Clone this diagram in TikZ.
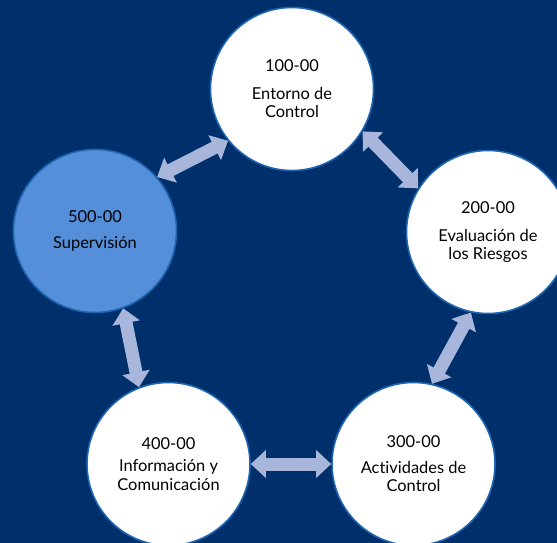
\documentclass[tikz,border=0pt]{standalone}
\usepackage{fontspec}
\setmainfont[Ligatures={NoCommon,NoRare}]{Lato}
\usetikzlibrary{arrows.meta}
\definecolor{bg}{RGB}{0,48,108}
\definecolor{ring}{RGB}{30,102,178}
\definecolor{paleblue}{RGB}{85,143,218}
\definecolor{arrowc}{RGB}{168,182,220}
\begin{document}
\begin{tikzpicture}[x=1bp,y=-1bp,
  stage/.style={circle, draw=ring, line width=1.6bp, fill=white, minimum size=163bp,
    inner sep=0pt, align=center, text=black, font=\fontsize{16.5}{18.5}\selectfont},
  link/.style={draw=arrowc, line width=13bp,
    {Triangle[width=27bp,length=15bp]}-{Triangle[width=27bp,length=15bp]}}]
\fill[bg] (0,0) rectangle (557,543);
\useasboundingbox (0,0) rectangle (557,543);
\node[stage] (c100) at (292,89) {100-00\\[9bp]Entorno de\\Control};
\node[stage] (c200) at (488,232) {200-00\\[10bp]Evaluación de\\los Riesgos};
\node[stage] (c300) at (413.5,464) {300-00\\[7bp]Act\kern0pt ividades de\\Control};
\node[stage] (c400) at (168.5,464) {400-00\\[4bp]Información y\\Comunicación};
\node[stage, fill=paleblue] (c500) at (95,231) {500-00\\[8bp]Supervisión};
\draw[link] (c500.41) -- (c100.219.6);
\draw[link] (c100.329.6) -- (c200.148.3);
\draw[link] (c200.258) -- (c300.77.3);
\draw[link] (c300.180) -- (c400.0);
\draw[link] (c400.111.3) -- (c500.290.8);
\end{tikzpicture}
\end{document}
